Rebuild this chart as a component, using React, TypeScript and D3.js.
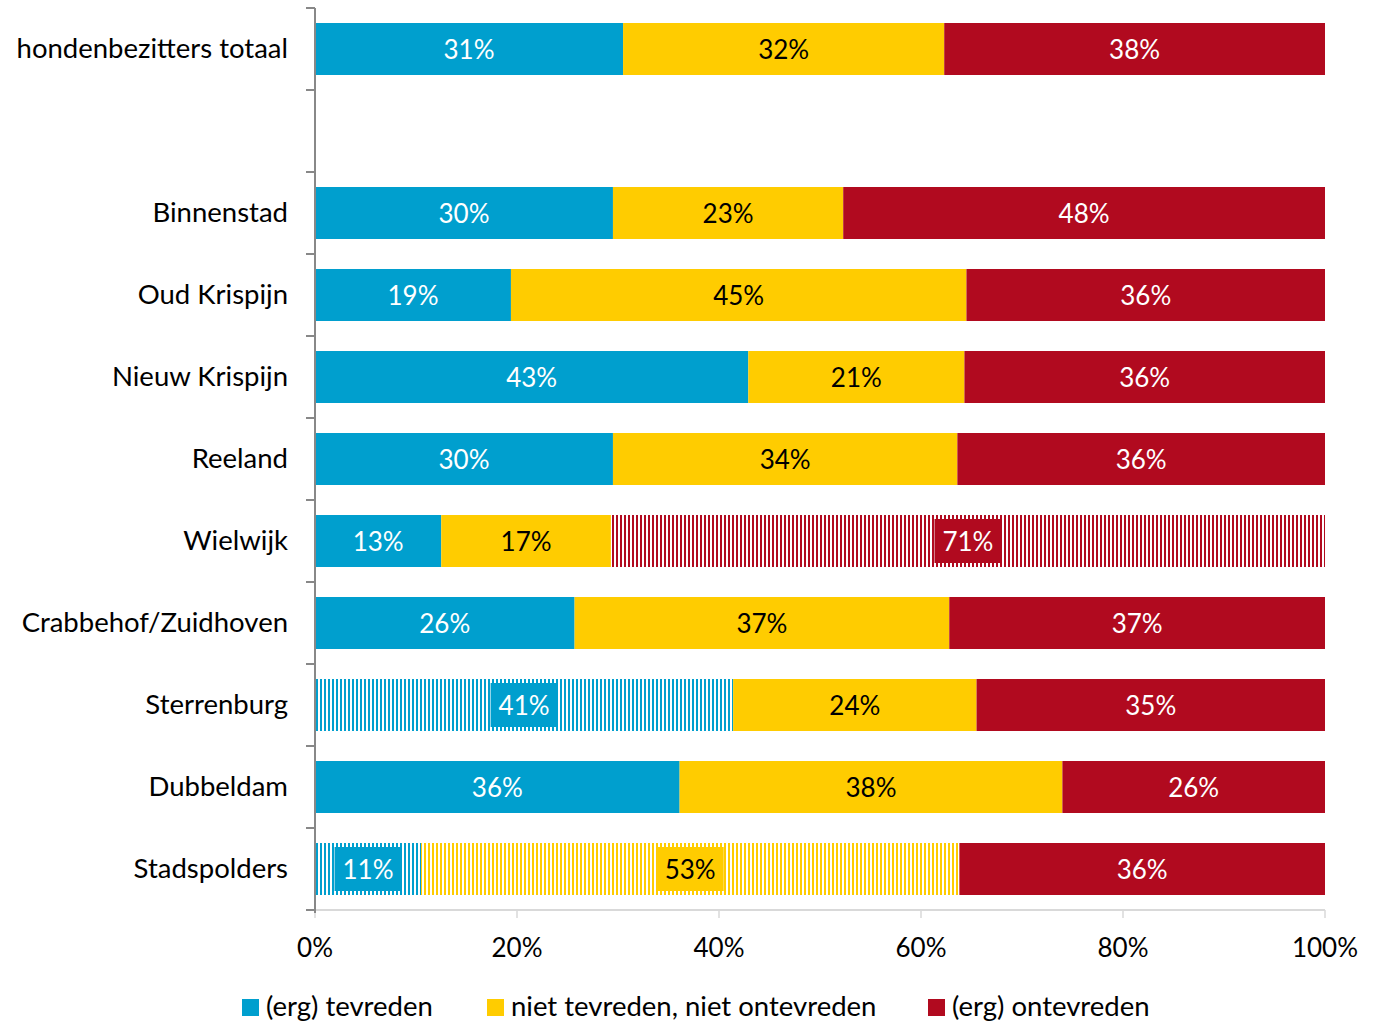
import * as d3 from 'd3';
import React from 'react';

const width = 1378;
const height = 1022;
const margin = { top: 8, right: 53, bottom: 112, left: 315 };
const font = 'Lato, "Open Sans", sans-serif';

const categories = [
  'hondenbezitters totaal',
  '',
  'Binnenstad',
  'Oud Krispijn',
  'Nieuw Krispijn',
  'Reeland',
  'Wielwijk',
  'Crabbehof/Zuidhoven',
  'Sterrenburg',
  'Dubbeldam',
  'Stadspolders'
];
const tevreden = [30.5, null, 29.5, 19.4, 42.9, 29.5, 12.5, 25.7, 41.4, 36.1, 10.5];
const neutraal = [31.8, null, 22.8, 45.1, 21.4, 34.1, 16.8, 37.1, 24.1, 37.9, 53.3];
const ontevreden = [37.7, null, 47.7, 35.5, 35.7, 36.4, 70.7, 37.2, 34.5, 26.0, 36.2];
// segments drawn hatched (small sample): [category, series index]
const hatched = [['Wielwijk', 2], ['Sterrenburg', 0], ['Stadspolders', 0], ['Stadspolders', 1]];

const seriesNames = ['(erg) tevreden', 'niet tevreden, niet ontevreden', '(erg) ontevreden'];
const colors = ['#009fce', '#ffcc00', '#b10a1f'];
const textColors = ['#fff', '#000', '#fff'];
const xTicks = [0, 20, 40, 60, 80, 100];

const x = d3.scaleLinear().domain([0, 100]).range([margin.left, width - margin.right]);
const y = d3.scaleBand().domain(categories.map((c, i) => i + '')).range([margin.top, height - margin.bottom]).paddingInner(0.366).paddingOuter(0.183);
const band = d3.scaleBand().domain(categories.map((c, i) => i + '')).range([margin.top, height - margin.bottom]);

function textWidth(s) {
  return s.length * 17;
}

export default function App() {
  const series = [tevreden, neutraal, ontevreden];
  const rows = categories.map((c, i) => {
    let acc = 0;
    return series.map((s, k) => {
      const v = s[i];
      const x0 = acc;
      acc += v || 0;
      return { v, x0, x1: acc, k, cat: c, i };
    });
  });

  return (
    <div style={{ position: 'absolute', left: 0, top: 0 }}>
      <svg width={width} height={height} style={{ display: 'block', fontFamily: font }}>
        <defs>
          {colors.map((c, k) => (
            <pattern key={k} id={`hatch${k}`} width={4} height={4} patternUnits="userSpaceOnUse">
              <rect width={4} height={4} fill="#fff" />
              <rect width={2} height={4} fill={c} />
            </pattern>
          ))}
        </defs>

        {/* x axis */}
        <line x1={x(0)} x2={x(100)} y1={height - margin.bottom} y2={height - margin.bottom} stroke="#d9d9d9" strokeWidth={2} />
        {xTicks.map(t => (
          <g key={t}>
            <line x1={x(t)} x2={x(t)} y1={height - margin.bottom} y2={height - margin.bottom + 8} stroke="#d9d9d9" strokeWidth={1.5} />
            <text x={x(t)} y={950} textAnchor="middle" dominantBaseline="middle" fontSize={26} fill="#000">{t}%</text>
          </g>
        ))}

        {/* bars */}
        {rows.map(segs =>
          segs.map(d => {
            if (d.v == null) return null;
            const isHatched = hatched.some(h => h[0] === d.cat && h[1] === d.k);
            const bx = x(d.x0);
            const bw = x(d.x1) - x(d.x0);
            const by = y(d.i + '');
            const bh = y.bandwidth();
            const label = Math.round(d.v) + '%';
            const cx = bx + bw / 2;
            const tw = textWidth(label);
            return (
              <g key={d.i + '-' + d.k}>
                <rect x={bx} y={by} width={bw} height={bh} fill={isHatched ? `url(#hatch${d.k})` : colors[d.k]} />
                {isHatched && (
                  <rect x={cx - tw / 2 - 8} y={by + 4} width={tw + 16} height={bh - 8} fill={colors[d.k]} />
                )}
                <text x={cx} y={by + bh / 2 + 3} textAnchor="middle" dominantBaseline="middle" fontSize={26} fill={textColors[d.k]}>{label}</text>
              </g>
            );
          })
        )}

        {/* y axis */}
        <line x1={margin.left} x2={margin.left} y1={margin.top} y2={height - margin.bottom + 3} stroke="#888" strokeWidth={2} />
        {categories.map((c, i) => (
          <line key={'t' + i} x1={margin.left - 9} x2={margin.left} y1={band(i + '')} y2={band(i + '')} stroke="#888" strokeWidth={2} />
        ))}
        <line x1={margin.left - 9} x2={margin.left} y1={height - margin.bottom} y2={height - margin.bottom} stroke="#888" strokeWidth={2} />
        {categories.map((c, i) => (
          <text key={'l' + i} x={288} y={band(i + '') + band.bandwidth() / 2 + 2} textAnchor="end" dominantBaseline="middle" fontSize={27.5} fill="#000">{c}</text>
        ))}

        {/* legend */}
        {seriesNames.map((s, k) => {
          const lx = [242, 487, 928][k];
          return (
            <g key={s}>
              <rect x={lx} y={999} width={17} height={17} fill={colors[k]} />
              <text x={lx + 24} y={1009} dominantBaseline="middle" fontSize={27.5} fill="#000">{s}</text>
            </g>
          );
        })}
      </svg>
    </div>
  );
}
